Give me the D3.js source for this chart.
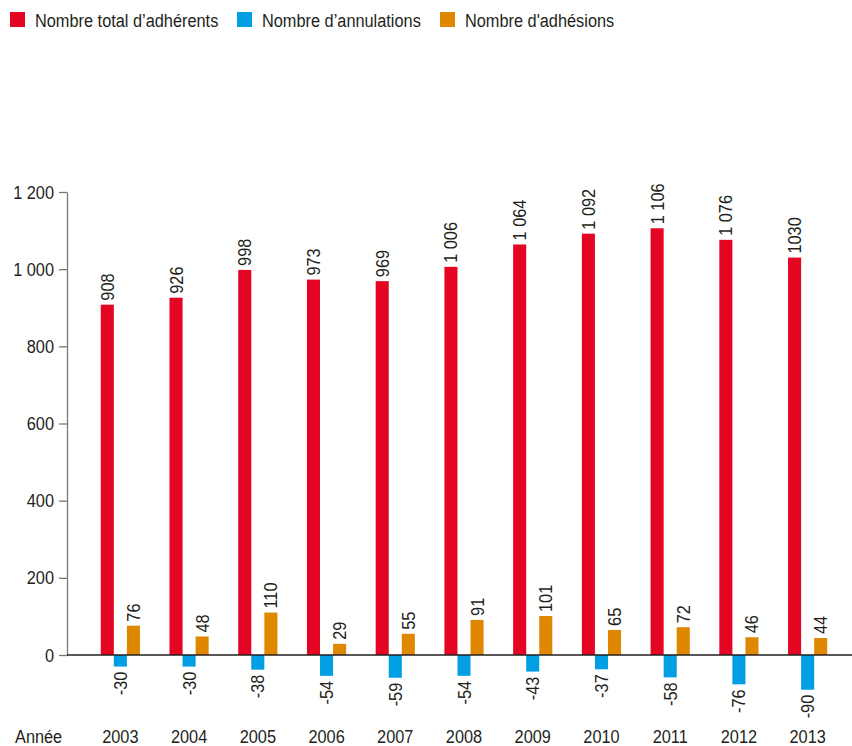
<!DOCTYPE html>
<html>
<head>
<meta charset="utf-8">
<script src="https://cdn.jsdelivr.net/npm/d3@7"></script>
<style>
  body { margin: 0; background: white; }
  svg text { font-family: "Liberation Sans", Arial, sans-serif; fill: #231f20; }
</style>
</head>
<body>
<svg id="chart" width="852" height="746"></svg>
<script>
const years = ["2003", "2004", "2005", "2006", "2007", "2008", "2009", "2010", "2011", "2012", "2013"];
const totals = [908, 926, 998, 973, 969, 1006, 1064, 1092, 1106, 1076, 1030];
const totalLabels = ["908", "926", "998", "973", "969", "1 006", "1 064", "1 092", "1 106", "1 076", "1030"];
const cancellations = [-30, -30, -38, -54, -59, -54, -43, -37, -58, -76, -90];
const joins = [76, 48, 110, 29, 55, 91, 101, 65, 72, 46, 44];
const seriesNames = ["Nombre total d’adhérents", "Nombre d’annulations", "Nombre d'adhésions"];
const colors = ["#e30521", "#009fe3", "#e08700"];
const yTicks = [0, 200, 400, 600, 800, 1000, 1200];

const width = 852, height = 746;
const fs = 19;
const narrow = 0.86; // horizontal squeeze to mimic a condensed face
const svg = d3.select("#chart");

const fr = d3.formatLocale({ decimal: ",", thousands: " ", grouping: [3], currency: ["", " €"] });
const fmt = fr.format(",d");

// scales
const y = d3.scaleLinear().domain([0, 1200]).range([655, 192]);
const x0 = d3.scaleBand().domain(years).range([86, 842]).paddingInner(0.43).paddingOuter(0.215);
const x1 = d3.scaleBand().domain([0, 1, 2]).range([0, x0.bandwidth()]);

const rows = years.map((yr, i) => ({
  year: yr,
  vals: [
    { s: 0, v: totals[i], label: totalLabels[i] },
    { s: 1, v: cancellations[i], label: String(cancellations[i]) },
    { s: 2, v: joins[i], label: String(joins[i]) },
  ],
}));

// y axis
const yAxis = svg.append("g")
  .attr("transform", "translate(67,0)")
  .call(d3.axisLeft(y).tickValues(yTicks).tickFormat(fmt).tickSize(8).tickSizeOuter(0).tickPadding(5));
yAxis.select(".domain").attr("stroke", "#777").attr("stroke-width", 1.3);
yAxis.selectAll(".tick line").attr("stroke", "#777").attr("stroke-width", 1.3);
yAxis.selectAll(".tick text")
  .attr("font-size", fs)
  .attr("fill", "#231f20")
  .attr("x", -13 / narrow)
  .attr("transform", `scale(${narrow},1)`);

// bars
const groups = svg.append("g").selectAll("g.year")
  .data(rows)
  .enter()
  .append("g")
  .attr("class", "year")
  .attr("transform", (d) => `translate(${x0(d.year)},0)`);

groups.selectAll("rect")
  .data((d) => d.vals)
  .enter()
  .append("rect")
  .attr("x", (d) => x1(d.s))
  .attr("width", x1.bandwidth())
  .attr("y", (d) => y(Math.max(0, d.v)))
  .attr("height", (d) => Math.abs(y(d.v) - y(0)))
  .attr("fill", (d) => colors[d.s]);

// value labels, rotated
groups.selectAll("text.val")
  .data((d) => d.vals)
  .enter()
  .append("text")
  .attr("class", "val")
  .attr("font-size", fs)
  .attr("text-anchor", (d) => (d.v >= 0 ? "start" : "end"))
  .attr("transform", (d) => {
    const cx = x1(d.s) + x1.bandwidth() / 2 + 6.5;
    const cy = d.v >= 0 ? y(d.v) - 4 : y(d.v) + 5;
    return `translate(${cx},${cy}) rotate(-90) scale(${narrow},1)`;
  })
  .text((d) => d.label);

// zero line
svg.append("line")
  .attr("x1", 67).attr("x2", width)
  .attr("y1", y(0)).attr("y2", y(0))
  .attr("stroke", "#231f20")
  .attr("stroke-width", 1.3);

// year labels
svg.append("g").selectAll("text")
  .data(years)
  .enter()
  .append("text")
  .attr("text-anchor", "middle")
  .attr("font-size", fs)
  .attr("transform", (d) => `translate(${x0(d) + x0.bandwidth() / 2},743) scale(${narrow},1)`)
  .text((d) => d);

svg.append("text")
  .attr("font-size", fs)
  .attr("transform", `translate(15,743) scale(${narrow},1)`)
  .text("Année");

// legend
const legendX = [10, 237, 440];
const legend = svg.append("g").selectAll("g")
  .data(seriesNames)
  .enter()
  .append("g")
  .attr("transform", (d, i) => `translate(${legendX[i]},12)`);
legend.append("rect")
  .attr("width", 15).attr("height", 15)
  .attr("fill", (d, i) => colors[i]);
legend.append("text")
  .attr("font-size", fs)
  .attr("transform", `translate(25,15) scale(${narrow},1)`)
  .text((d) => d);
</script>
</body>
</html>
